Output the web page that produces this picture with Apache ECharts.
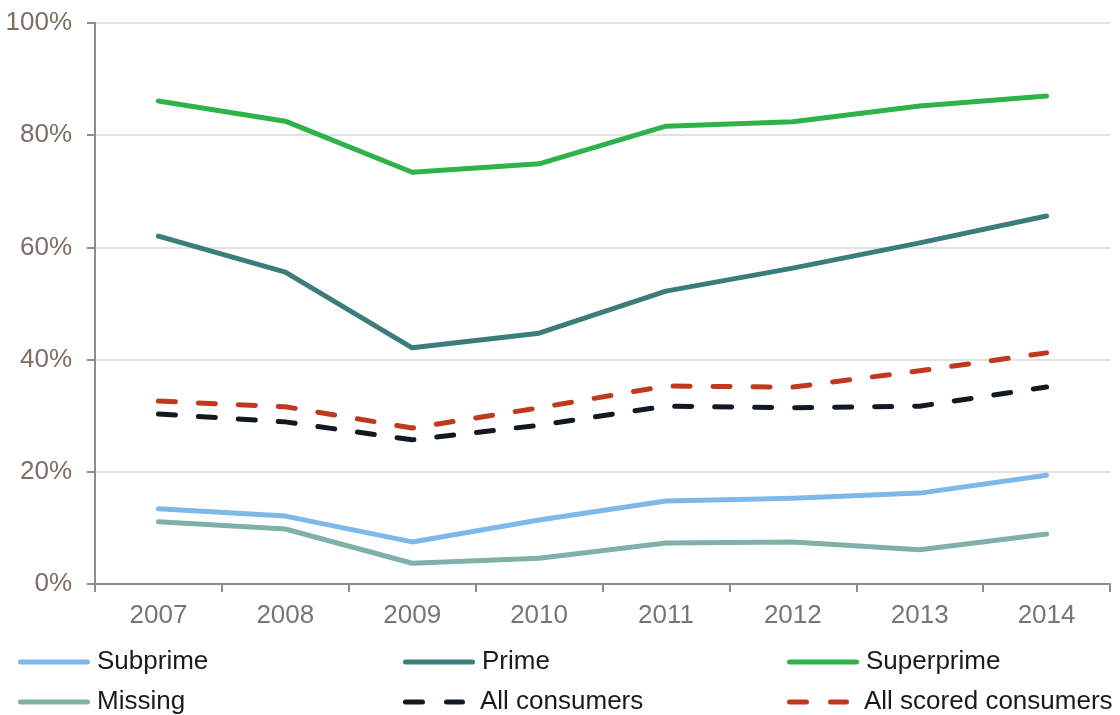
<!DOCTYPE html>
<html><head><meta charset="utf-8">
<script src="https://cdn.jsdelivr.net/npm/echarts@6/dist/echarts.min.js"></script>
<style>html,body{margin:0;padding:0;background:#fff}#c{width:1120px;height:715px}</style>
</head><body><div id="c"></div>
<script>
const years = ['2007','2008','2009','2010','2011','2012','2013','2014'];
const subprime = [13.4, 12.1, 7.5, 11.4, 14.8, 15.3, 16.2, 19.4];
const prime = [62.0, 55.6, 42.1, 44.7, 52.2, 56.3, 60.8, 65.6];
const superprime = [86.1, 82.5, 73.4, 74.9, 81.6, 82.4, 85.2, 87.0];
const missing = [11.1, 9.8, 3.7, 4.6, 7.3, 7.5, 6.1, 8.9];
const allConsumers = [30.3, 28.9, 25.7, 28.3, 31.7, 31.4, 31.7, 35.1];
const allScored = [32.6, 31.6, 27.8, 31.4, 35.3, 35.1, 38.0, 41.2];

const FONT = 'Liberation Sans, Arial, sans-serif';
function mk(name, data, color, dashed) {
  return {
    name, type: 'line', data, symbol: 'none', smooth: false,
    lineStyle: { color, width: 5, type: dashed ? [17, 23] : 'solid', cap: 'round', join: 'round' },
    itemStyle: { color }
  };
}
const series = [
  mk('Subprime', subprime, '#7db8e8'),
  mk('Prime', prime, '#3a7d7b'),
  mk('Superprime', superprime, '#2db34a'),
  mk('Missing', missing, '#80b0aa'),
  mk('All consumers', allConsumers, '#111a22', true),
  mk('All scored consumers', allScored, '#c0391e', true)
];
const solidIcon = 'path://M2.5,0H69.5A2.5,2.5 0 0 1 69.5,5H2.5A2.5,2.5 0 0 1 2.5,0Z';
const dashIcon = 'path://M2.5,0H19.5A2.5,2.5 0 0 1 19.5,5H2.5A2.5,2.5 0 0 1 2.5,0Z M43.5,0H59.5A2.5,2.5 0 0 1 59.5,5H43.5A2.5,2.5 0 0 1 43.5,0Z';
const pos = [[18,649],[403,649],[787,649],[18,689],[403,689],[787,689]];
const legends = series.map((s, i) => {
  const dashed = i >= 4;
  return {
    data: [{ name: s.name, icon: dashed ? dashIcon : solidIcon }],
    left: pos[i][0], top: pos[i][1], padding: 0,
    itemWidth: dashed ? 62 : 72, itemHeight: 5,
    textStyle: { fontFamily: FONT, fontSize: 26, color: '#1a1a1a', padding: [0, 0, 0, dashed ? 10 : 2] }
  };
});

const chart = echarts.init(document.getElementById('c'), null, { renderer: 'canvas' });
chart.setOption({
  animation: false,
  legend: legends,
  grid: { left: 95, right: 10, top: 23, bottom: 131, containLabel: false },
  xAxis: {
    type: 'category', data: years, boundaryGap: true,
    axisLine: { lineStyle: { color: '#8c8c8c', width: 2 } },
    axisTick: { show: true, length: 8, lineStyle: { color: '#8c8c8c', width: 2 } },
    axisLabel: { fontFamily: FONT, fontSize: 26, color: '#767676', margin: 19 },
    splitLine: { show: false }
  },
  yAxis: {
    type: 'value', min: 0, max: 100, interval: 20,
    axisLine: { show: true, lineStyle: { color: '#8c8c8c', width: 2 } },
    axisTick: { show: true, length: 8, lineStyle: { color: '#8c8c8c', width: 2 } },
    axisLabel: { fontFamily: FONT, fontSize: 26, color: '#7a6f66', margin: 23, formatter: '{value}%' },
    splitLine: { show: true, lineStyle: { color: '#d9d9d9', width: 1.5 } }
  },
  series
});
</script></body></html>
